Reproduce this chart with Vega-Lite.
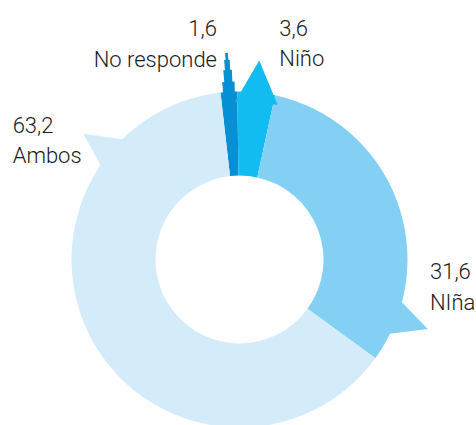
{
  "$schema": "https://vega.github.io/schema/vega-lite/v6.json",
  "width": 473,
  "height": 331,
  "autosize": {"type": "none"},
  "padding": {"left": 3, "top": 94, "right": 0, "bottom": 0},
  "background": "white",
  "config": {
    "view": {"stroke": null},
    "locale": {"number": {"decimal": ",", "thousands": ".", "grouping": [3], "currency": ["", " €"]}},
    "text": {"font": "Roboto", "fontWeight": 300, "fontSize": 22, "color": "#1a1a1a"}
  },
  "data": {
    "values": [
      {"categoria": "No responde", "valor": 1.6, "orden": 1},
      {"categoria": "Niño", "valor": 3.6, "orden": 2},
      {"categoria": "NIña", "valor": 31.6, "orden": 3},
      {"categoria": "Ambos", "valor": 63.2, "orden": 4}
    ]
  },
  "layer": [
    {
      "mark": {"type": "arc", "outerRadius": 168, "innerRadius": 84},
      "encoding": {
        "theta": {"field": "valor", "type": "quantitative", "stack": true, "scale": {"domain": [0, 100], "range": [-0.1134, 6.1698]}},
        "order": {"field": "orden", "type": "quantitative", "sort": "ascending"},
        "color": {"field": "categoria", "type": "nominal", "scale": {"domain": ["No responde", "Niño", "NIña", "Ambos"], "range": ["#0590d6", "#10bcf0", "#84d0f4", "#d4ecfa"]}, "legend": null}
      }
    },
    {
      "transform": [{"filter": "datum.categoria === 'No responde'"}],
      "layer": [
        {"mark": {"type": "arc", "theta": -0.0977, "theta2": -0.0279, "radius": 178, "radius2": 160}, "encoding": {"color": {"field": "categoria", "type": "nominal", "legend": null}}},
        {"mark": {"type": "arc", "theta": -0.0855, "theta2": -0.0401, "radius": 190, "radius2": 177}, "encoding": {"color": {"field": "categoria", "type": "nominal", "legend": null}}},
        {"mark": {"type": "arc", "theta": -0.0768, "theta2": -0.0489, "radius": 200, "radius2": 189}, "encoding": {"color": {"field": "categoria", "type": "nominal", "legend": null}}},
        {"mark": {"type": "arc", "theta": -0.0698, "theta2": -0.0559, "radius": 207, "radius2": 199}, "encoding": {"color": {"field": "categoria", "type": "nominal", "legend": null}}},
        {"mark": {"type": "text", "align": "right", "baseline": "alphabetic", "theta": -0.1002, "radius": 224.9}, "encoding": {"text": {"field": "valor", "type": "quantitative", "format": ".1f"}}},
        {"mark": {"type": "text", "align": "right", "baseline": "alphabetic", "theta": -0.1002, "radius": 224.9, "dy": 31}, "encoding": {"text": {"field": "categoria", "type": "nominal"}}}
      ]
    },
    {
      "transform": [{"filter": "datum.categoria === 'Niño'"}],
      "layer": [
        {"mark": {"type": "text", "text": "▲", "font": "DejaVu Sans", "fontWeight": "normal", "fontSize": 56, "align": "center", "baseline": "alphabetic", "theta": 0.105, "radius": 164, "angle": 4}, "encoding": {"color": {"field": "categoria", "type": "nominal", "legend": null}}},
        {"mark": {"type": "text", "align": "left", "baseline": "alphabetic", "theta": 0.176, "radius": 227.3}, "encoding": {"text": {"field": "valor", "type": "quantitative", "format": ".1f"}}},
        {"mark": {"type": "text", "align": "left", "baseline": "alphabetic", "theta": 0.176, "radius": 227.3, "dy": 30}, "encoding": {"text": {"field": "categoria", "type": "nominal"}}}
      ]
    },
    {
      "transform": [{"filter": "datum.categoria === 'NIña'"}],
      "layer": [
        {"mark": {"type": "text", "text": "▲", "font": "DejaVu Sans", "fontWeight": "normal", "fontSize": 57, "align": "center", "baseline": "alphabetic", "theta": 1.9286, "radius": 164, "angle": 109.4}, "encoding": {"color": {"field": "categoria", "type": "nominal", "legend": null}}},
        {"mark": {"type": "text", "align": "left", "baseline": "alphabetic", "theta": 1.6743, "radius": 191.5}, "encoding": {"text": {"field": "valor", "type": "quantitative", "format": ".1f"}}},
        {"mark": {"type": "text", "align": "left", "baseline": "alphabetic", "theta": 1.6743, "radius": 191.5, "dy": 31}, "encoding": {"text": {"field": "categoria", "type": "nominal"}}}
      ]
    },
    {
      "transform": [{"filter": "datum.categoria === 'Ambos'"}],
      "layer": [
        {"mark": {"type": "text", "text": "▲", "font": "DejaVu Sans", "fontWeight": "normal", "fontSize": 57, "align": "center", "baseline": "alphabetic", "theta": -0.876, "radius": 164, "angle": -55.4}, "encoding": {"color": {"field": "categoria", "type": "nominal", "legend": null}}},
        {"mark": {"type": "text", "align": "left", "baseline": "alphabetic", "theta": -1.0631, "radius": 259.6}, "encoding": {"text": {"field": "valor", "type": "quantitative", "format": ".1f"}}},
        {"mark": {"type": "text", "align": "left", "baseline": "alphabetic", "theta": -1.0631, "radius": 259.6, "dy": 30}, "encoding": {"text": {"field": "categoria", "type": "nominal"}}}
      ]
    }
  ]
}
